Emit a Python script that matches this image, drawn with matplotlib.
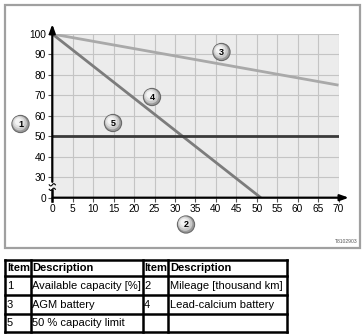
import numpy as np
import matplotlib
matplotlib.use("Agg")
import matplotlib.pyplot as plt
from matplotlib.patches import Circle, Rectangle

plt.rcParams['font.family'] = ['Liberation Sans', 'DejaVu Sans']

# Kapazitätsverlauf über der Laufleistung
mileage_agm = [0, 70]
capacity_agm = [100, 75]
mileage_pbca = [0, 51]
capacity_pbca = [100, 0]
limit_mileage = [0, 70]
limit_capacity = [50, 50]

x_ticks = list(range(0, 75, 5))
y_ticks = [0, 30, 40, 50, 60, 70, 80, 90, 100]

# Legendentabelle
table_rows = [
    ["Item", "Description", "Item", "Description"],
    ["1", "Available capacity [%]", "2", "Mileage [thousand km]"],
    ["3", "AGM battery", "4", "Lead-calcium battery"],
    ["5", "50 % capacity limit", "", ""],
]

# Positionsnummern (Pixel im Bild)
callouts = {"1": (20.5, 124), "2": (186, 224.5), "3": (221.5, 52),
            "4": (152, 97), "5": (113, 123)}


def brk(v):
    # unterbrochene y-Achse: 0 sitzt eine Teilung unter 30
    v = np.asarray(v, dtype=float)
    return np.where(v >= 30, v, 20 + v * 10 / 30)


W, H = 364, 335
fig = plt.figure(figsize=(W / 100, H / 100), dpi=100)
fig.patch.set_facecolor("white")

ax = fig.add_axes([52.3 / W, (H - 197.7) / H, 286.2 / W, 163.7 / H])
ax.set_xlim(0, 70)
ax.set_ylim(20, 100)
ax.set_facecolor("#ececec")
for s in ax.spines.values():
    s.set_visible(False)

for x in x_ticks[1:]:
    ax.axvline(x, color="#c4c4c4", lw=0.8, zorder=1)
for y in y_ticks[2:] + [30]:
    ax.axhline(brk(y), color="#c4c4c4", lw=0.8, zorder=1)

ax.plot(mileage_agm, brk(capacity_agm), color="#a9a9a9", lw=2.0, zorder=3,
        solid_capstyle="butt")
ax.plot(mileage_pbca, brk(capacity_pbca), color="#7c7c7c", lw=2.0, zorder=3,
        solid_capstyle="butt")
ax.plot(limit_mileage, limit_capacity, color="#3a3a3a", lw=2.0, zorder=3,
        solid_capstyle="butt")

ax.set_xticks(x_ticks)
ax.set_xticklabels([str(x) for x in x_ticks], fontsize=7.3)
ax.set_yticks(brk(y_ticks))
ax.set_yticklabels([str(y) for y in y_ticks], fontsize=7.3)
ax.tick_params(axis="both", length=3, width=0.8, color="#555555", pad=1.5)

# Achsen mit Pfeilen
ax.annotate("", xy=(73.2, 20), xytext=(-0.6, 20),
            arrowprops=dict(arrowstyle="-|>,head_length=0.5,head_width=0.18",
                            color="black", lw=1.6), annotation_clip=False)
ax.plot([0, 0], [18.6, 24.0], color="black", lw=1.8, clip_on=False, zorder=5)
ax.annotate("", xy=(0, 106.2), xytext=(0, 26.4),
            arrowprops=dict(arrowstyle="-|>,head_length=0.5,head_width=0.18",
                            color="black", lw=1.6), annotation_clip=False)
# Bruchzeichen
t = np.linspace(-1, 1, 30)
for y0 in (24.1, 26.3):
    ax.plot(t * 0.75, y0 + 0.55 * np.sin(t * np.pi), color="black", lw=0.8,
            clip_on=False, zorder=6)

# Overlay in Pixelkoordinaten: Rahmen, Positionsnummern, Tabelle
ov = fig.add_axes([0, 0, 1, 1], zorder=10)
ov.set_xlim(0, W)
ov.set_ylim(H, 0)
ov.axis("off")
ov.patch.set_alpha(0)

ov.add_patch(Rectangle((5, 4.5), 355, 243.5, fill=False, edgecolor="#a0a0a0", lw=1.6))
ov.text(358, 244, "T8102903", fontsize=3.6, color="#555555", ha="right", va="bottom")

for num, (cx, cy) in callouts.items():
    ov.add_patch(Circle((cx, cy), 8.6, facecolor="#9a9a9a", edgecolor="#6a6a6a", lw=0.8))
    ov.add_patch(Circle((cx - 0.8, cy - 0.8), 7.2, facecolor="#c9c9c9", lw=0))
    ov.add_patch(Circle((cx - 1.5, cy - 1.6), 5.6, facecolor="#e2e2e2", lw=0))
    ov.add_patch(Circle((cx - 2.0, cy - 2.2), 3.6, facecolor="#f4f4f4", lw=0))
    ov.text(cx, cy + 0.3, num, fontsize=6.5, fontweight="bold", ha="center", va="center")

col_x = [5.3, 30.7, 142.7, 168.3, 287.3]
row_y = [259.5, 275.7, 295.0, 314.0, 332.0]
for x in col_x:
    ov.plot([x, x], [row_y[0], row_y[-1]], color="black", lw=1.8, solid_capstyle="projecting")
for y in row_y:
    ov.plot([col_x[0], col_x[-1]], [y, y], color="black", lw=1.8, solid_capstyle="projecting")
for i, row in enumerate(table_rows):
    yc = (row_y[i] + row_y[i + 1]) / 2 + 0.5
    for j, txt in enumerate(row):
        ov.text(col_x[j] + 1.5, yc, txt, fontsize=8,
                fontweight="bold" if i == 0 else "normal", ha="left", va="center")

fig.savefig("out.png", dpi=100)
